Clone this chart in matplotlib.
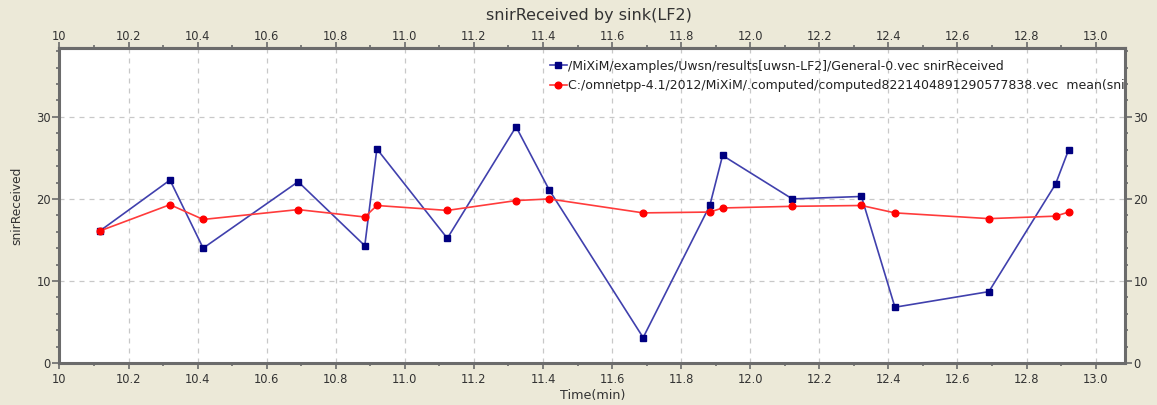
import matplotlib
matplotlib.use("Agg")
import matplotlib.pyplot as plt
from matplotlib.ticker import FixedLocator, FixedFormatter, MultipleLocator

plt.rcParams['font.family'] = ['DejaVu Sans']

# data
time_min = [10.117, 10.320, 10.416, 10.691, 10.884, 10.919, 11.123, 11.322, 11.418,
            11.690, 11.883, 11.920, 12.122, 12.322, 12.419, 12.691, 12.884, 12.922]
snir = [16.1, 22.3, 14.0, 22.1, 14.3, 26.1, 15.2, 28.8, 21.1,
        3.1, 19.2, 25.3, 20.0, 20.3, 6.8, 8.7, 21.8, 26.0]
snir_mean = [16.1, 19.3, 17.5, 18.7, 17.8, 19.2, 18.6, 19.8, 20.0,
             18.3, 18.4, 18.9, 19.1, 19.2, 18.3, 17.6, 17.9, 18.4]

x_ticks = [10.0, 10.2, 10.4, 10.6, 10.8, 11.0, 11.2, 11.4, 11.6, 11.8,
           12.0, 12.2, 12.4, 12.6, 12.8, 13.0]
x_labels = ['10', '10.2', '10.4', '10.6', '10.8', '11.0', '11.2', '11.4', '11.6', '11.8',
            '12.0', '12.2', '12.4', '12.6', '12.8', '13.0']
y_ticks = [0, 10, 20, 30]

label_vec = '/MiXiM/examples/Uwsn/results[uwsn-LF2]/General-0.vec snirReceived'
label_mean = 'C:/omnetpp-4.1/2012/MiXiM/.computed/computed8221404891290577838.vec  mean(snirReceived)'

bg = '#ECE9D8'
frame = '#6b6b6b'
txt = '#333333'

fig = plt.figure(figsize=(11.57, 4.05), dpi=100, facecolor=bg)
ax = fig.add_axes([0.0514, 0.1037, 0.9209, 0.7778])
ax.set_facecolor('white')

ax.plot(time_min, snir, color='#4040ad', lw=1.2, marker='s', ms=4.8,
        mfc='#000080', mec='#000080', label=label_vec, zorder=3)
ax.plot(time_min, snir_mean, color='#ff3b3b', lw=1.2, marker='o', ms=4.8,
        mfc='#ff0000', mec='#ff0000', label=label_mean, zorder=3)

ax.set_xlim(10.0, 13.085)
ax.set_ylim(0, 38.4)

ax.xaxis.set_major_locator(FixedLocator(x_ticks))
ax.xaxis.set_major_formatter(FixedFormatter(x_labels))
ax.xaxis.set_minor_locator(MultipleLocator(0.1))
ax.yaxis.set_major_locator(FixedLocator(y_ticks))
ax.yaxis.set_minor_locator(MultipleLocator(2))

ax.tick_params(axis='both', which='both', direction='out', colors=frame,
               labelcolor=txt, labelsize=8.3, width=1.2,
               right=True, labelright=True)
ax.tick_params(axis='x', which='major', length=4.3, pad=3)
ax.tick_params(axis='x', which='minor', length=2.2)
ax.tick_params(axis='y', which='major', length=5, pad=1.2)
ax.tick_params(axis='y', which='minor', length=2.5)

# top axis with its own (smaller) label pad
top = ax.secondary_xaxis('top')
top.xaxis.set_major_locator(FixedLocator(x_ticks))
top.xaxis.set_major_formatter(FixedFormatter(x_labels))
top.xaxis.set_minor_locator(MultipleLocator(0.1))
top.tick_params(which='both', direction='out', colors=frame, labelcolor=txt,
                labelsize=8.3, width=1.2)
top.tick_params(which='major', length=4.3, pad=-1.0)
top.tick_params(which='minor', length=2.2)
top.spines['top'].set_color(frame)
top.spines['top'].set_linewidth(2.2)

for s in ax.spines.values():
    s.set_color(frame)
    s.set_linewidth(2.2)

ax.grid(True, which='major', color='#c8c8c8', linestyle=(0, (4, 4)), linewidth=0.9)
ax.set_axisbelow(True)

fig.text(0.509, 0.962, 'snirReceived by sink(LF2)', fontsize=11.5, color=txt,
         ha='center', va='center')
ax.set_xlabel('Time(min)', fontsize=9.2, color=txt, labelpad=2)
ax.set_ylabel('snirReceived', fontsize=8.8, color=txt, labelpad=9)

leg = ax.legend(loc='upper left', bbox_to_anchor=(0.460, 0.963), frameon=False,
                fontsize=9, handlelength=1.36, handletextpad=0.15,
                labelspacing=0.5, borderaxespad=0, borderpad=0)
for t in leg.get_texts():
    t.set_color('#222222')
    t.set_clip_on(True)
    t.set_clip_box(ax.bbox)

fig.savefig('out.png', dpi=100, facecolor=bg)
